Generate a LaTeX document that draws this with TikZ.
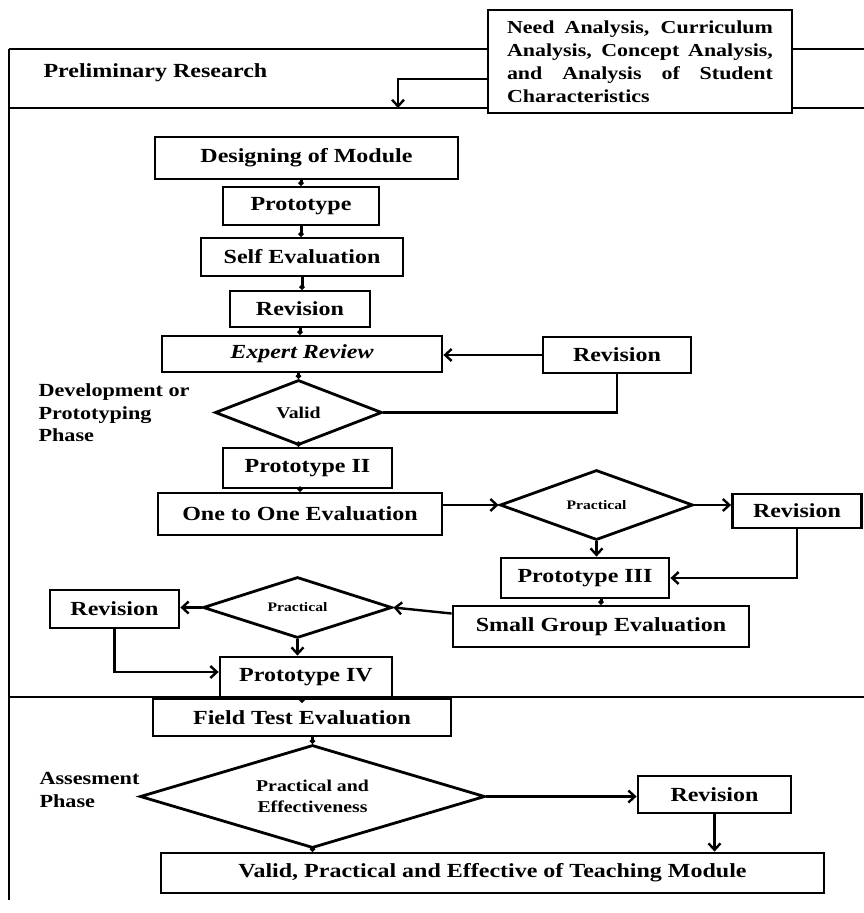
\documentclass[tikz,border=0pt]{standalone}
\usepackage{fontspec}
\setmainfont[FakeStretch=1.2]{Liberation Serif}
\usepackage{tikz}
\usetikzlibrary{arrows.meta,shapes.geometric}
\tikzset{>={Straight Barb[length=6.5pt,width=12pt]}}
\tikzset{
  blk/.style={draw,fill=white,line width=2.8pt,inner sep=0pt,font=\fontsize{20}{24}\selectfont\bfseries},
  dec/.style={draw,diamond,fill=white,line width=2.8pt,inner sep=0pt,font=\fontsize{16.5}{21}\selectfont\bfseries},
  flow/.style={->,line width=2.4pt},
  link/.style={-{Circle[length=5pt]},line width=3pt},
  phase/.style={anchor=west,align=left,font=\fontsize{18.5}{22.5}\selectfont\bfseries}
}
\newcommand{\phaselines}{%
  \draw[line width=2.8pt] (9,49) -- (864,49);
  \draw[line width=2.8pt] (9,108) -- (864,108);
  \draw[line width=2.8pt] (9,697) -- (864,697);
  \draw[line width=1.8pt] (9,49) -- (9,900);
}

\begin{document}
\begin{tikzpicture}[x=1pt,y=-1pt]
\fill[white] (0,0) rectangle (864,913);
\useasboundingbox (0,0) rectangle (864,913);
\phaselines
\node[blk,minimum width=304pt,minimum height=103pt,text width=266pt,align=justify,
  font=\fontsize{18.3}{23}\selectfont\bfseries] (need) at (640,61.5)
  {Need Analysis, Curriculum\linebreak Analysis, Concept Analysis,\linebreak and Analysis of Student\linebreak Characteristics};
\node[phase,font=\fontsize{20}{24}\selectfont\bfseries] (prelim) at (40,73) {Preliminary Research};
\coordinate (prelimIn) at (398,108);
\node[phase] (devel) at (35,413) {Development or\\Prototyping\\Phase};
\node[phase] (assess) at (36,790) {Assesment\\Phase};

\node[blk,minimum width=303pt,minimum height=42pt] (design) at (306.5,158) {Designing of Module};
\node[blk,minimum width=156pt,minimum height=38pt] (proto1) at (301,206) {Prototype};
\node[blk,minimum width=202pt,minimum height=38pt] (selfeval) at (302,257) {Self Evaluation};
\node[blk,minimum width=140pt,minimum height=36pt] (rev1) at (300,309) {Revision};
\node[blk,minimum width=280pt,minimum height=36pt] (expert) at (302,354) {\textit{Expert Review}};
\node[blk,minimum width=148pt,minimum height=36pt] (rev2) at (617,355) {Revision};
\node[dec,aspect=2.6,minimum width=167pt,minimum height=65pt] (valid) at (298.5,412.5) {Valid};
\node[blk,minimum width=169pt,minimum height=40pt] (proto2) at (307.5,468) {Prototype II};
\node[blk,minimum width=284pt,minimum height=42pt] (onetoone) at (300,514) {One to One Evaluation};
\node[dec,aspect=2.8,minimum width=193pt,minimum height=70pt,font=\fontsize{13}{16}\selectfont\bfseries] (prac1) at (596.5,505) {Practical};
\node[blk,minimum width=129pt,minimum height=34pt] (rev3) at (797,511) {Revision};
\node[blk,minimum width=168pt,minimum height=40pt] (proto3) at (585,578) {Prototype III};
\node[blk,minimum width=296pt,minimum height=41pt] (smallgroup) at (601,626.5) {Small Group Evaluation};
\node[dec,aspect=3.1,minimum width=189pt,minimum height=61pt,font=\fontsize{13}{16}\selectfont\bfseries] (prac2) at (297.5,607.5) {Practical};
\node[blk,minimum width=129pt,minimum height=38pt] (rev4) at (114.5,609) {Revision};
\node[blk,minimum width=172pt,minimum height=40pt] (proto4) at (306,677) {Prototype IV};

\node[blk,minimum width=298pt,minimum height=37pt] (field) at (302,717.5) {Field Test Evaluation};
\node[dec,aspect=3.35,minimum width=345pt,minimum height=103pt,align=center] (prac3) at (312.5,796.5) {Practical and\\Effectiveness};
\node[blk,minimum width=153pt,minimum height=37pt] (rev5) at (714.5,794.5) {Revision};
\node[blk,minimum width=663pt,minimum height=40pt] (final) at (492.5,873) {Valid, Practical and Effective of Teaching Module};

\draw[flow] ([yshift=-17.5pt]need.west) -| (prelimIn);
\draw[link] (proto1.north |- design.south) -- (proto1.north);
\draw[link] (proto1.south) -- (proto1.south |- selfeval.north);
\draw[link] (selfeval.south) -- (selfeval.south |- rev1.north);
\draw[link] (rev1.south) -- (rev1.south |- expert.north);
\draw[flow] (rev2.west) -- (rev2.west -| expert.east);
\draw[line width=2.4pt] (rev2.south) |- (valid.east);
\draw[link] (valid.north |- expert.south) -- (valid.north);
\draw[link] (valid.south) -- (valid.south |- proto2.north);
\draw[link] (onetoone.north |- proto2.south) -- (onetoone.north);
\draw[flow] (onetoone.east |- prac1.west) -- (prac1.west);
\draw[flow] (prac1.east) -- (prac1.east -| rev3.west);
\draw[flow] (prac1.south) -- (prac1.south |- proto3.north);
\draw[flow] (rev3.south) |- (proto3.east);
\draw[link] (smallgroup.north |- proto3.south) -- (smallgroup.north);
\draw[flow] ([yshift=13pt]smallgroup.west) -- (prac2.east);
\draw[flow] (prac2.west) -- (prac2.west -| rev4.east);
\draw[flow] (prac2.south) -- (prac2.south |- proto4.north);
\draw[flow] (rev4.south) |- ([yshift=5pt]proto4.west);
\draw[link] (field.north |- proto4.south) -- (field.north);
\draw[link] (prac3.north |- field.south) -- (prac3.north);
\draw[flow] (prac3.east) -- (prac3.east -| rev5.west);
\draw[flow] (rev5.south) -- (rev5.south |- final.north);
\draw[link] (prac3.south) -- (prac3.south |- final.north);
\end{tikzpicture}
\end{document}
